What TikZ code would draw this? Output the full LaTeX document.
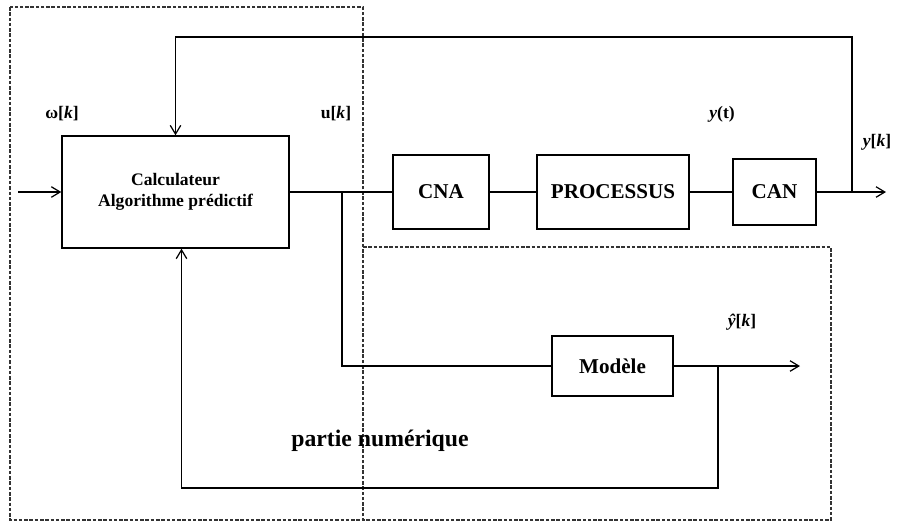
\documentclass[tikz,border=0pt]{standalone}
\usepackage{fontspec}
\setmainfont{Liberation Serif}
\usepackage{tikz}
\usetikzlibrary{arrows.meta,positioning,calc}
\newcommand{\kk}{\textbf{\textit{k}}}

\begin{document}
\begin{tikzpicture}[x=0.2mm,y=-0.2mm,font=\bfseries,
  box/.style={draw=black,line width=0.8pt,align=center,inner sep=2pt,fill=white},
  lab/.style={font=\bfseries,inner sep=1pt},
  zone/.style={draw=black!80,line width=0.6pt,dash pattern=on 2pt off 1pt},
  wire/.style={line width=0.7pt},
  >={Straight Barb[length=5pt,width=6pt]}]
  \useasboundingbox (0,0) rectangle (916,524);
  % zones
  \draw[zone] (10,7) rectangle (363,520);
  \draw[zone] (363,247) -| (831,520) -- (363,520);
  % blocs
  \node[box,minimum width=45.4mm,minimum height=22.4mm,font=\bfseries] (calc) at (175.5,192) {Calculateur\\Algorithme prédictif};
  \node[box,minimum width=19.2mm,minimum height=14.8mm,font=\bfseries\large] (cna) at (441,192) {CNA};
  \node[box,minimum width=30.4mm,minimum height=14.8mm,font=\bfseries\large] (proc) at (613,192) {PROCESSUS};
  \node[box,minimum width=16.6mm,minimum height=13.2mm,font=\bfseries\large] (can) at (774.5,192) {CAN};
  \node[box,minimum width=24.2mm,minimum height=12mm,font=\bfseries\large] (modele) at (612.5,366) {Modèle};
  % points
  \coordinate (in) at (18,192);
  \coordinate (out) at (886,192);
  \coordinate (tap) at (852,192);
  \coordinate (top) at (0,37);
  \coordinate (br) at (342,192);
  \coordinate (yhatout) at (800,366);
  \coordinate (mtap) at (718,366);
  \coordinate (bot) at (0,488);
  % liaisons
  \draw[wire,->] (in) -- (calc.west);
  \draw[wire] (calc.east) -- (cna.west);
  \draw[wire] (cna.east) -- (proc.west);
  \draw[wire] (proc.east) -- (can.west);
  \draw[wire,->] (can.east) -- (out);
  \draw[wire,->] (tap) -- (tap |- top) -| (calc.north);
  \draw[wire] (br) |- (modele.west);
  \draw[wire,->] (modele.east) -- (yhatout);
  \draw[wire,->] (mtap) -- (mtap |- bot) -| ($(calc.south)+(6,0)$);
  % textes
  \node[lab] (w) at (62,114) {ω[\kk]};
  \node[lab] (u) at (336,114) {u[\kk]};
  \node[lab] (yt) at (722,114) {\textit{y}(t)};
  \node[lab] (yk) at (877,142) {\textit{y}[\kk]};
  \node[lab] (yh) at (742,322) {\textit{ŷ}[\kk]};
  \node[font=\bfseries\fontsize{13.5}{16}\selectfont] (num) at (380,441) {partie numérique};
\end{tikzpicture}
\end{document}
